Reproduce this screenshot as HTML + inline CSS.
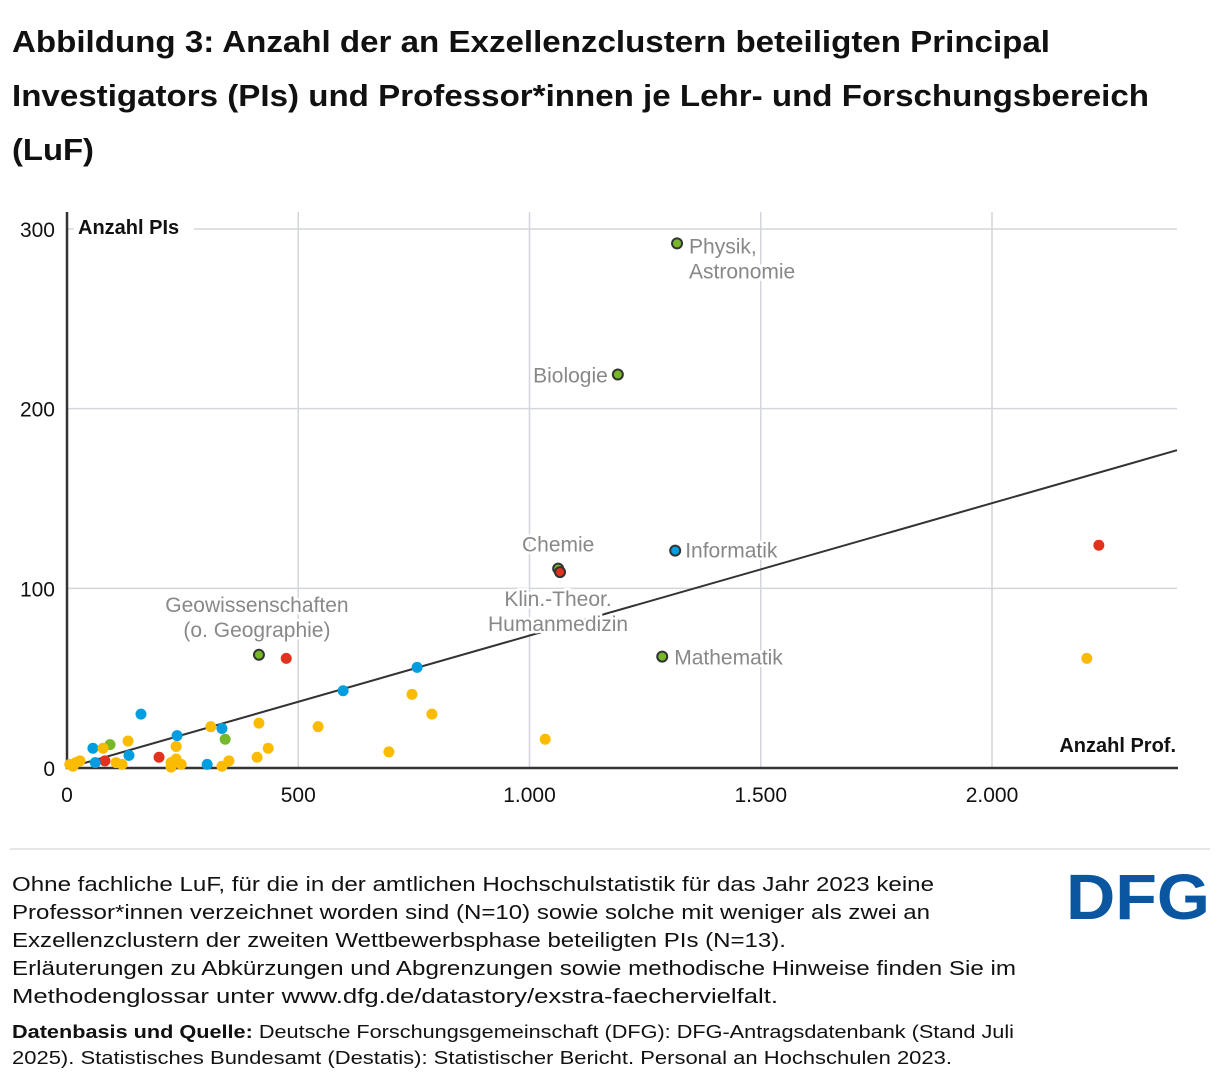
<!DOCTYPE html>
<html><head><meta charset="utf-8"><style>
body{margin:0;background:#fff}
svg{display:block;font-family:"Liberation Sans",sans-serif}
</style></head><body>
<svg id="chart" width="1220" height="1082" viewBox="0 0 1220 1082">
<g font-size="31" font-weight="bold" fill="#111">
<text x="12" y="52" textLength="1038" lengthAdjust="spacingAndGlyphs">Abbildung 3: Anzahl der an Exzellenzclustern beteiligten Principal</text>
<text x="12" y="106" textLength="1137" lengthAdjust="spacingAndGlyphs">Investigators (PIs) und Professor*innen je Lehr- und Forschungsbereich</text>
<text x="12" y="160" textLength="82" lengthAdjust="spacingAndGlyphs">(LuF)</text>
</g>
<g id="grid"></g>
<g id="yticks" font-size="21" fill="#111"></g>
<g id="xticks" font-size="21" fill="#111"></g>
<line x1="67" y1="212" x2="67" y2="769" stroke="#333" stroke-width="2.5"/>
<line x1="66" y1="768" x2="1178" y2="768" stroke="#333" stroke-width="2.5"/>
<rect x="74" y="214" width="120" height="26" fill="#fff"/>
<text x="78" y="234" font-size="20" font-weight="bold" fill="#111">Anzahl PIs</text>
<text x="1176" y="752" text-anchor="end" font-size="20" font-weight="bold" fill="#111">Anzahl Prof.</text>
<line id="trend" stroke="#333" stroke-width="2"/>
<g id="points"></g>
<g id="labels" font-size="21" fill="#888"></g>
<line x1="10" y1="849" x2="1210" y2="849" stroke="#ddd" stroke-width="1.5"/>
<g font-size="20" fill="#111">
<text x="12" y="891" textLength="922" lengthAdjust="spacingAndGlyphs">Ohne fachliche LuF, für die in der amtlichen Hochschulstatistik für das Jahr 2023 keine</text>
<text x="12" y="919" textLength="918" lengthAdjust="spacingAndGlyphs">Professor*innen verzeichnet worden sind (N=10) sowie solche mit weniger als zwei an</text>
<text x="12" y="947" textLength="774" lengthAdjust="spacingAndGlyphs">Exzellenzclustern der zweiten Wettbewerbsphase beteiligten PIs (N=13).</text>
<text x="12" y="975" textLength="1004" lengthAdjust="spacingAndGlyphs">Erläuterungen zu Abkürzungen und Abgrenzungen sowie methodische Hinweise finden Sie im</text>
<text x="12" y="1003" textLength="766" lengthAdjust="spacingAndGlyphs">Methodenglossar unter www.dfg.de/datastory/exstra-faechervielfalt.</text>
</g>
<g font-size="18" fill="#111">
<text x="12" y="1038" textLength="1002" lengthAdjust="spacingAndGlyphs"><tspan font-weight="bold">Datenbasis und Quelle:</tspan> Deutsche Forschungsgemeinschaft (DFG): DFG-Antragsdatenbank (Stand Juli</text>
<text x="12" y="1064" textLength="940" lengthAdjust="spacingAndGlyphs">2025). Statistisches Bundesamt (Destatis): Statistischer Bericht. Personal an Hochschulen 2023.</text>
</g>
<text x="1066" y="919" font-size="64" font-weight="bold" fill="#0a56a0" textLength="144" lengthAdjust="spacingAndGlyphs">DFG</text>
</svg>
<script>
const xTicks=[0,500,1000,1500,2000];
const xTickLabels=["0","500","1.000","1.500","2.000"];
const yTicks=[0,100,200,300];
const yTickLabels=["0","100","200","300"];
const ptX=[415,1191,1319,1287,1062,93,342,1066,474,2231,199,82,1315,757,597,160,238,335,56,134,61,303,2205,1034,746,789,696,543,415,435,411,311,236,132,78,28,6,19,225,247,236,335,350,106,119,225,13];
const ptY=[63,219,292,62,111,13,16,109,61,124,6,4,121,56,43,30,18,22,11,7,3,2,61,16,41,30,9,23,25,11,6,23,12,15,11,4,2,3,3,2,5,1,4,3,2,0.5,1];
const ptGroup=["g","g","g","g","g","g","g","r","r","r","r","r","b","b","b","b","b","b","b","b","b","b","y","y","y","y","y","y","y","y","y","y","y","y","y","y","y","y","y","y","y","y","y","y","y","y","y"];
const ptOutlined=[1,1,1,1,1,0,0,1,0,0,0,0,1,0,0,0,0,0,0,0,0,0,0,0,0,0,0,0,0,0,0,0,0,0,0,0,0,0,0,0,0,0,0,0,0,0,0];
const trendSlope=0.0737;
const labelText=[["Physik,","Astronomie"],["Biologie"],["Chemie"],["Informatik"],["Klin.-Theor.","Humanmedizin"],["Geowissenschaften","(o. Geographie)"],["Mathematik"]];
const labelX=[1319,1191,1062,1315,1066,415,1287];
const labelY=[292,219,111,121,109,63,62];
const sx=v=>67+v*0.4625;
const sy=v=>768-v*1.7967;
const NS="http://www.w3.org/2000/svg";
const mk=(t,a,p)=>{const e=document.createElementNS(NS,t);for(const k in a)e.setAttribute(k,a[k]);p.appendChild(e);return e;};
const grid=document.getElementById('grid');
xTicks.forEach((v,i)=>{
 if(v>0){const l=mk('line',{x1:sx(v),x2:sx(v),y1:212,y2:768,stroke:'#d3d6da','stroke-width':1.5},grid);
 
 }
 const t=mk('text',{x:sx(v),y:802,'text-anchor':'middle'},document.getElementById('xticks'));
 t.textContent=xTickLabels[i];
 
 
});
yTicks.forEach((v,i)=>{
 if(v>0){const l=mk('line',{x1:67,x2:1177,y1:sy(v),y2:sy(v),stroke:'#d3d6da','stroke-width':1.5},grid);
 
 }
 const t=mk('text',{x:55,y:sy(v)+8,'text-anchor':'end'},document.getElementById('yticks'));
 t.textContent=yTickLabels[i];
 
 
});
const tr=document.getElementById('trend');
tr.setAttribute('x1',sx(0));tr.setAttribute('y1',sy(0));
tr.setAttribute('x2',sx(2400));tr.setAttribute('y2',sy(2400*trendSlope));
const colors={g:'#76b82a',r:'#e2321e',b:'#009ee0',y:'#fbbb00'};
const pts=document.getElementById('points');
ptX.forEach((v,i)=>{
 const o=ptOutlined[i];
 const c=mk('circle',{cx:sx(v),cy:sy(ptY[i]),r:o?5:5.5,fill:colors[ptGroup[i]],stroke:o?'#333':'none','stroke-width':o?2:0},pts);
 
 
});
const offs=[[12,10,'start'],[-10,8,'end'],[0,-17,'middle'],[10,7,'start'],[-2,34,'middle'],[-2,-43,'middle'],[12,8,'start']];
const lg=document.getElementById('labels');
labelText.forEach((lines,i)=>{
 const [dx,dy,a]=offs[i];
 lines.forEach((s,j)=>{
  const bx=sx(labelX[i])+dx, by=sy(labelY[i])+dy+j*25;
  const t=mk('text',{x:bx,y:by,'text-anchor':a,stroke:'#fff','stroke-width':5,'paint-order':'stroke'},lg);
  t.textContent=s;
  
  
 });
});
</script>
</body></html>
